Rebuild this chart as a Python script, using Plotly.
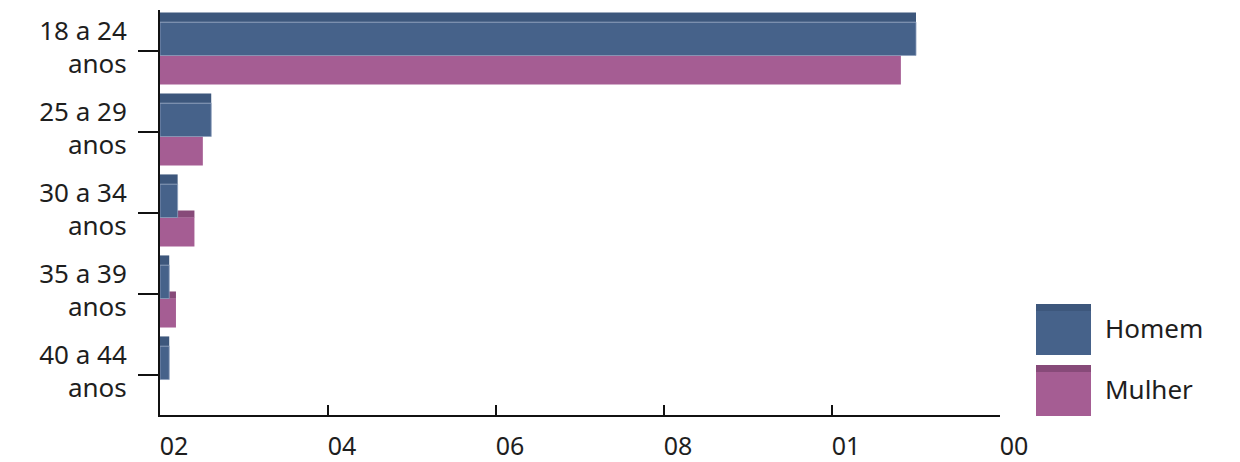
import plotly.graph_objects as go

categories = ["18 a 24<br>anos", "25 a 29<br>anos", "30 a 34<br>anos", "35 a 39<br>anos", "40 a 44<br>anos"]
homem = [90.0, 6.1, 2.1, 1.1, 1.1]
mulher = [88.2, 5.1, 4.1, 1.9, 0.0]
tick_vals = [0, 20, 40, 60, 80, 100]
tick_text = ["02", "04", "06", "08", "01", "00"]
series_names = ["Homem", "Mulher"]

HOMEM_FRONT = "#46628a"
HOMEM_TOP = "#3d577c"
MULHER_FRONT = "#a55d93"
MULHER_TOP = "#874a79"
FONT = "Noto Sans"
TXT = "#1e1e1e"
FS = 26

fig = go.Figure()
# mulher top face (behind)
fig.add_trace(go.Bar(y=categories, x=mulher, orientation="h", marker=dict(color=MULHER_TOP, line=dict(width=0)),
                     offset=-0.025, width=0.09, showlegend=False, hoverinfo="skip"))
# mulher front
fig.add_trace(go.Bar(y=categories, x=mulher, orientation="h", name=series_names[1],
                     marker=dict(color=MULHER_FRONT, line=dict(width=0)),
                     offset=0.062, width=0.358, showlegend=False))
# homem top face
fig.add_trace(go.Bar(y=categories, x=homem, orientation="h", marker=dict(color=HOMEM_TOP, line=dict(width=0)),
                     offset=-0.47, width=0.12, showlegend=False, hoverinfo="skip"))
# homem front
fig.add_trace(go.Bar(y=categories, x=homem, orientation="h", name=series_names[0],
                     marker=dict(color=HOMEM_FRONT, line=dict(width=0.8, color="#8ea0bd")),
                     offset=-0.35, width=0.412, showlegend=False))

fig.update_layout(
    width=1240, height=462,
    margin=dict(l=160, r=240, t=10, b=47),
    plot_bgcolor="white", paper_bgcolor="white",
    barmode="overlay",
    showlegend=False,
    font=dict(family=FONT, size=FS, color=TXT),
    xaxis=dict(range=[0, 100], tickvals=tick_vals, ticktext=tick_text, automargin=False,
               showgrid=False, zeroline=False, showline=True, linecolor="#111", linewidth=2,
               ticks="inside", ticklen=10, tickwidth=2, tickcolor="#111",
               ticklabelshift=14, ticklabelstandoff=8,
               tickfont=dict(family=FONT, size=25, color=TXT)),
    yaxis=dict(categoryorder="array", categoryarray=categories, range=[4.5, -0.5], automargin=False,
               showgrid=False, zeroline=False, showline=True, linecolor="#111", linewidth=2,
               ticks="outside", ticklen=20, tickwidth=2, tickcolor="#111",
               ticklabelstandoff=6, ticklabelshift=3,
               tickfont=dict(family=FONT, size=FS, color=TXT)),
)

# legend drawn manually
def px2paper_x(px):
    return (px - 160) / 840

def px2paper_y(py):
    return (415 - py) / 405

legend_items = [(series_names[0], HOMEM_FRONT, HOMEM_TOP, 304), (series_names[1], MULHER_FRONT, MULHER_TOP, 365)]
for name, front, top, y0 in legend_items:
    fig.add_shape(type="rect", xref="paper", yref="paper",
                  x0=px2paper_x(1036), x1=px2paper_x(1091), y0=px2paper_y(y0 + 51), y1=px2paper_y(y0),
                  fillcolor=front, line=dict(width=0))
    fig.add_shape(type="rect", xref="paper", yref="paper",
                  x0=px2paper_x(1036), x1=px2paper_x(1091), y0=px2paper_y(y0 + 7), y1=px2paper_y(y0),
                  fillcolor=top, line=dict(width=0))
    fig.add_annotation(xref="paper", yref="paper", x=px2paper_x(1103), y=px2paper_y(y0 + 24),
                       text=name, showarrow=False, xanchor="left", yanchor="middle",
                       font=dict(family=FONT, size=FS, color=TXT))

fig.write_html("out.html", config={"displayModeBar": False},
               post_script="document.body.style.margin='0';document.body.style.padding='0';document.body.style.overflow='hidden';")
